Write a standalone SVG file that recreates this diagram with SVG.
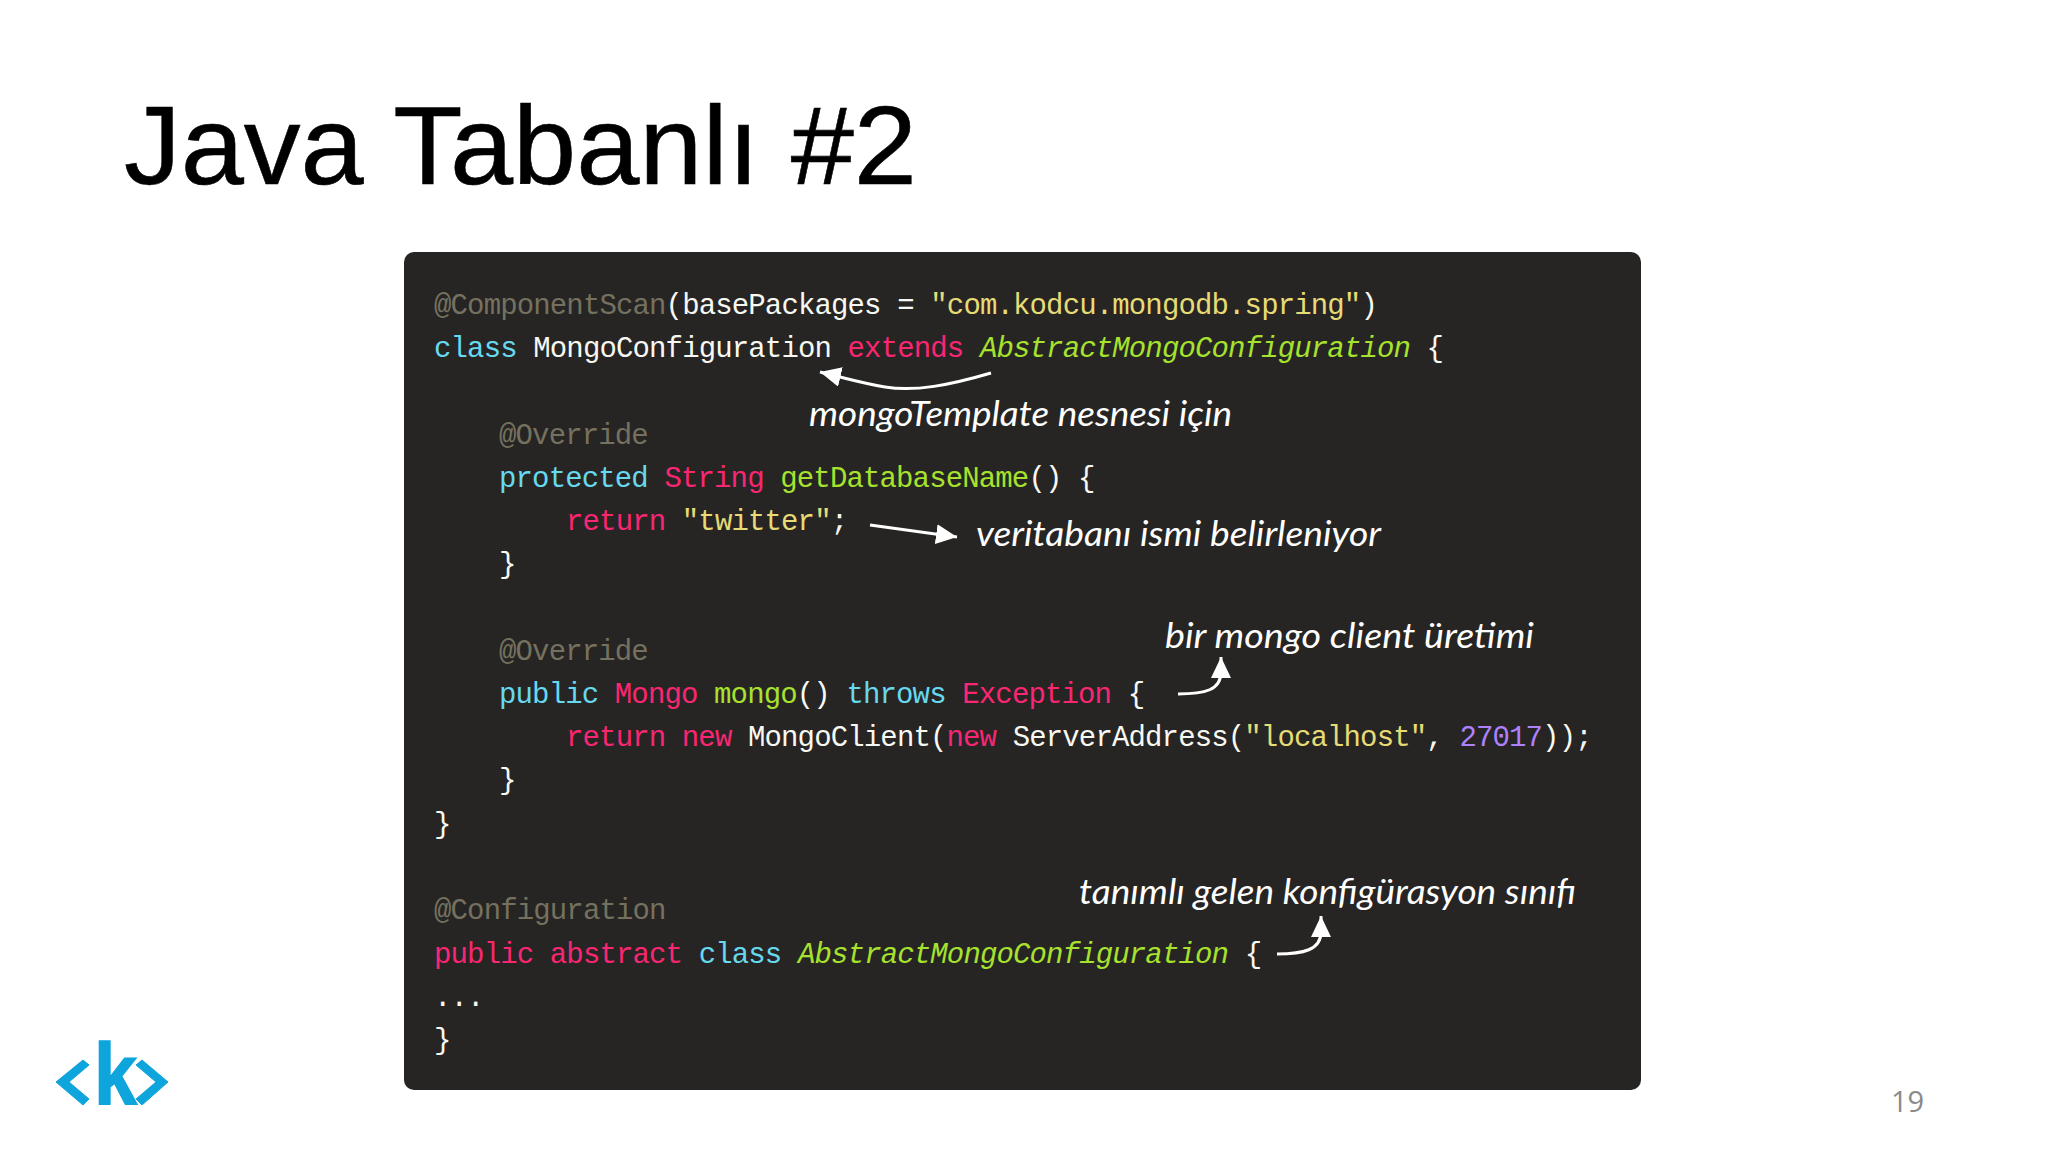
<svg xmlns="http://www.w3.org/2000/svg" width="2048" height="1153" viewBox="0 0 2048 1153">
<defs>
<style>
.code{font-family:"Liberation Mono","DejaVu Sans Mono",monospace;font-size:29px;letter-spacing:-0.86px;fill:#f8f8f2}
.cm{fill:#75715e}.pk{fill:#f92672}.cy{fill:#66d9ef}.gr{fill:#a6e22e}.ye{fill:#e6db74}.pu{fill:#ae81ff}.it{font-style:italic}
.note{font-family:"Lato","Noto Sans",sans-serif;font-style:italic;font-size:34px;fill:#fff}
.arrow{fill:none;stroke:#fff;stroke-width:3}
.chev{fill:#0ea5dc;stroke:#0ea5dc;stroke-width:1}
</style>
<marker id="head" markerUnits="userSpaceOnUse" markerWidth="24" markerHeight="22" refX="21" refY="10" orient="auto"><path d="M0 0L21 10L0 20Z" fill="#fff"/></marker>
</defs>
<rect width="2048" height="1153" fill="#fff"/>
<text id="title" x="124" y="184" font-family="Liberation Sans, Arial, sans-serif" font-size="112" fill="#000" stroke="#000" stroke-width="0.6" textLength="793" lengthAdjust="spacingAndGlyphs">Java Tabanlı #2</text>
<g id="panel"><rect x="404" y="252" width="1237" height="838" rx="10" fill="#262524"/></g>
<g id="code">
<text class="code" x="434" y="314"><tspan class="cm">@ComponentScan</tspan>(basePackages = <tspan class="ye">"com.kodcu.mongodb.spring"</tspan>)</text>
<text class="code" x="434" y="357.3"><tspan class="cy">class</tspan> MongoConfiguration <tspan class="pk">extends</tspan> <tspan class="gr it">AbstractMongoConfiguration</tspan> {</text>
<text class="code cm" x="499" y="443.6">@Override</text>
<text class="code" x="499" y="486.6"><tspan class="cy">protected</tspan> <tspan class="pk">String</tspan> <tspan class="gr">getDatabaseName</tspan>() {</text>
<text class="code" x="566" y="529.5"><tspan class="pk">return</tspan> <tspan class="ye">"twitter"</tspan>;</text>
<text class="code" x="499" y="572.8">}</text>
<text class="code cm" x="499" y="659.8">@Override</text>
<text class="code" x="499" y="702.7"><tspan class="cy">public</tspan> <tspan class="pk">Mongo</tspan> <tspan class="gr">mongo</tspan>() <tspan class="cy">throws</tspan> <tspan class="pk">Exception</tspan> {</text>
<text class="code" x="566" y="746"><tspan class="pk">return</tspan> <tspan class="pk">new</tspan> MongoClient(<tspan class="pk">new</tspan> ServerAddress(<tspan class="ye">"localhost"</tspan>, <tspan class="pu">27017</tspan>));</text>
<text class="code" x="499" y="789.3">}</text>
<text class="code" x="434" y="832.6">}</text>
<text class="code cm" x="434" y="919.2">@Configuration</text>
<text class="code" x="434" y="962.5"><tspan class="pk">public</tspan> <tspan class="pk">abstract</tspan> <tspan class="cy">class</tspan> <tspan class="gr it">AbstractMongoConfiguration</tspan> {</text>
<text class="code" x="434" y="1005.8">...</text>
<text class="code" x="434" y="1049.1">}</text>
</g>
<g id="notes">
<text id="note1" class="note" x="809" y="426" textLength="423" lengthAdjust="spacingAndGlyphs">mongoTemplate nesnesi için</text>
<text id="note2" class="note" x="976" y="546" textLength="405" lengthAdjust="spacingAndGlyphs">veritabanı ismi belirleniyor</text>
<text id="note3" class="note" x="1165" y="648" textLength="369" lengthAdjust="spacingAndGlyphs">bir mongo client üretimi</text>
<text id="note4" class="note" x="1079" y="904" textLength="497" lengthAdjust="spacingAndGlyphs">tanımlı gelen konfigürasyon sınıfı</text>
</g>
<g id="connectors">
<path class="arrow" marker-end="url(#head)" d="M991 373C950 385 915 392 885 387C862 383 845 378 820 372"/>
<path class="arrow" marker-end="url(#head)" d="M870 525L957 537"/>
<path class="arrow" marker-end="url(#head)" d="M1178 694C1205 694 1221 690 1221 672L1221 657"/>
<path class="arrow" marker-end="url(#head)" d="M1277 954C1303 954 1321 950 1321 932L1321 916"/>
</g>
<g id="logo">
<polygon class="chev" points="56,1082 83,1060 89,1065 69,1082 89,1099 83,1105"/>
<polygon class="chev" points="168,1082 142,1060 136,1065 156,1082 136,1099 142,1105"/>
<text x="94" y="1104" font-family="Liberation Sans, Arial, sans-serif" font-weight="bold" font-size="88" fill="#0ea5dc" stroke="#0ea5dc" stroke-width="1.5" textLength="43" lengthAdjust="spacingAndGlyphs">k</text>
</g>
<text id="page" x="1891" y="1112" font-family="Open Sans, Noto Sans, sans-serif" font-size="29" fill="#8a8a8a">19</text>
</svg>
